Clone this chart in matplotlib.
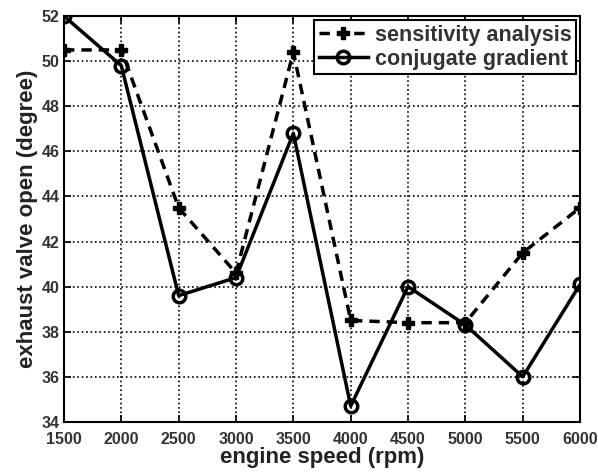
import matplotlib
matplotlib.use('Agg')
import matplotlib.pyplot as plt

plt.rcParams['font.family'] = ['Liberation Sans', 'DejaVu Sans']

# engine speed (rpm)
speed = [1500, 2000, 2500, 3000, 3500, 4000, 4500, 5000, 5500, 6000]
# exhaust valve open (degree)
sensitivity = [50.5, 50.5, 43.5, 40.6, 50.4, 38.5, 38.4, 38.4, 41.5, 43.5]
conjugate = [52.0, 49.8, 39.6, 40.4, 46.8, 34.7, 40.0, 38.3, 36.0, 40.1]

xticks = [1500, 2000, 2500, 3000, 3500, 4000, 4500, 5000, 5500, 6000]
yticks = [34, 36, 38, 40, 42, 44, 46, 48, 50, 52]

fig = plt.figure(figsize=(5.98, 4.74), dpi=100)
ax = fig.add_axes([0.107, 0.110, 0.863, 0.856])

ax.plot(speed, sensitivity, color='black', linestyle='--', linewidth=2.5,
        marker='P', markersize=9, dashes=(3, 2), label='sensitivity analysis')
ax.plot(speed, conjugate, color='black', linestyle='-', linewidth=2.5,
        marker='o', markersize=9, markerfacecolor='none', markeredgewidth=2.5,
        label='conjugate gradient')

ax.set_xlim(1500, 6000)
ax.set_ylim(34, 52)
ax.set_xticks(xticks)
ax.set_yticks(yticks)
ax.tick_params(axis='both', direction='in', top=True, right=True, length=5, width=1.2,
               labelsize=11.5)
ax.tick_params(axis='x', pad=7)
ax.tick_params(axis='y', pad=3)
for lbl in ax.get_xticklabels() + ax.get_yticklabels():
    lbl.set_fontweight('bold')
    lbl.set_color('#333333')
for s in ax.spines.values():
    s.set_linewidth(1.5)

ax.grid(True, color='black', linestyle=':', linewidth=1.2)
ax.set_xlabel('engine speed (rpm)', fontsize=16, fontweight='bold', color='#222222', labelpad=0)
ax.set_ylabel('exhaust valve open (degree)', fontsize=16, fontweight='bold', color='#222222', labelpad=3)

leg = ax.legend(loc='upper right', prop={'size': 15.5, 'weight': 'bold'}, frameon=True,
                fancybox=False, edgecolor='black', handlelength=2.3, borderpad=0.2,
                labelspacing=0.15, borderaxespad=0.2, handletextpad=0.3)
leg.get_frame().set_linewidth(1.5)
leg.get_frame().set_alpha(1)
for t in leg.get_texts():
    t.set_color('#333333')

plt.savefig('out.png', dpi=100)
plt.close()
